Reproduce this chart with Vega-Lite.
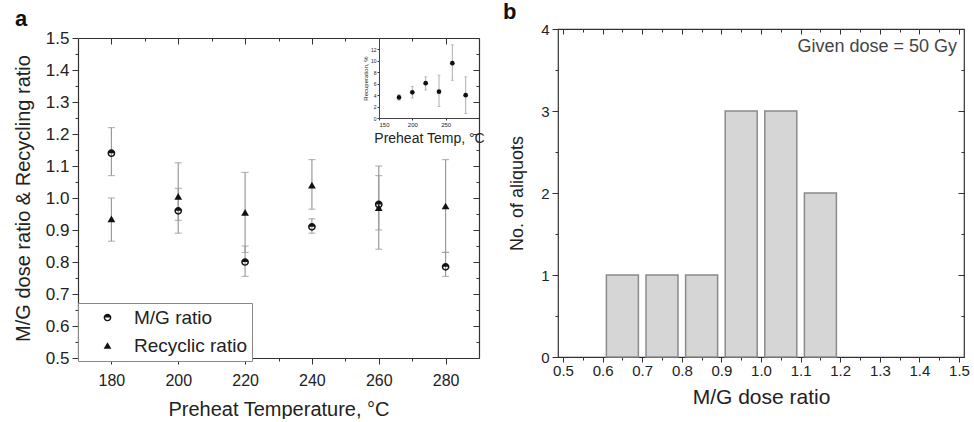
{
  "$schema": "https://vega.github.io/schema/vega-lite/v6.json",
  "background": "white",
  "padding": {"left": 13, "top": 0, "right": 5, "bottom": 0},
  "spacing": 17,
  "datasets": {
    "ratios": [
      {"temp": 180, "series": "M/G ratio", "value": 1.14, "lo": 1.07, "hi": 1.22},
      {"temp": 180, "series": "Recyclic ratio", "value": 0.935, "lo": 0.865, "hi": 1.0},
      {"temp": 200, "series": "M/G ratio", "value": 0.96, "lo": 0.89, "hi": 1.03},
      {"temp": 200, "series": "Recyclic ratio", "value": 1.005, "lo": 0.93, "hi": 1.11},
      {"temp": 220, "series": "M/G ratio", "value": 0.8, "lo": 0.755, "hi": 0.85},
      {"temp": 220, "series": "Recyclic ratio", "value": 0.955, "lo": 0.83, "hi": 1.08},
      {"temp": 240, "series": "M/G ratio", "value": 0.91, "lo": 0.89, "hi": 0.935},
      {"temp": 240, "series": "Recyclic ratio", "value": 1.04, "lo": 0.965, "hi": 1.12},
      {"temp": 260, "series": "M/G ratio", "value": 0.98, "lo": 0.84, "hi": 1.1},
      {"temp": 260, "series": "Recyclic ratio", "value": 0.97, "lo": 0.9, "hi": 1.07},
      {"temp": 280, "series": "M/G ratio", "value": 0.785, "lo": 0.755, "hi": 0.83},
      {"temp": 280, "series": "Recyclic ratio", "value": 0.975, "lo": 0.83, "hi": 1.12}
    ],
    "inset": [
      {"t": 180, "v": 3.6, "lo": 3.1, "hi": 4.1},
      {"t": 200, "v": 4.5, "lo": 3.5, "hi": 5.5},
      {"t": 220, "v": 6.1, "lo": 4.9, "hi": 7.2},
      {"t": 240, "v": 4.6, "lo": 2.0, "hi": 7.5},
      {"t": 260, "v": 9.6, "lo": 6.6, "hi": 12.8},
      {"t": 280, "v": 4.0, "lo": 0.8, "hi": 7.2}
    ],
    "hist": [
      {"center": 0.65, "count": 1},
      {"center": 0.75, "count": 1},
      {"center": 0.85, "count": 1},
      {"center": 0.95, "count": 3},
      {"center": 1.05, "count": 3},
      {"center": 1.15, "count": 2}
    ],
    "note": [
      {"label": "Given dose = 50 Gy"}
    ]
  },
  "hconcat": [
    {
      "width": 401,
      "height": 329,
      "view": {"stroke": null},
      "title": {"text": "a", "anchor": "start", "frame": "group", "dx": -63, "offset": -2, "fontSize": 22, "fontWeight": "bold", "color": "#111"},
      "layer": [
        {
          "data": {"name": "ratios"},
          "mark": {"type": "errorbar", "ticks": {"size": 7, "color": "#9a9a9a"}, "color": "#9a9a9a", "thickness": 1.2},
          "encoding": {
            "x": {"field": "temp", "type": "quantitative", "scale": {"domain": [170, 290], "nice": false, "zero": false},
              "axis": {"orient": "bottom", "domain": true, "domainColor": "#333", "domainWidth": 1.2, "values": [180, 200, 220, 240, 260, 280], "tickSize": 6, "labelFontSize": 16, "labelPadding": 8, "title": "Preheat Temperature, °C", "titleFontSize": 20, "titlePadding": 11}},
            "y": {"field": "lo", "type": "quantitative", "scale": {"domain": [0.5, 1.5], "range": [329, 9], "nice": false, "zero": false},
              "axis": {"orient": "left", "domain": true, "domainColor": "#333", "domainWidth": 1.2, "values": [0.5, 0.6, 0.7, 0.8, 0.9, 1.0, 1.1, 1.2, 1.3, 1.4, 1.5], "format": ".1f", "tickSize": 6, "labelFontSize": 17, "labelPadding": 3, "title": "M/G dose ratio & Recycling ratio", "titleFontSize": 20, "titlePadding": 12}},
            "y2": {"field": "hi"}
          }
        },
        {
          "data": {"name": "ratios"},
          "mark": {"type": "point", "filled": true, "color": "#111", "size": 60, "strokeWidth": 0, "opacity": 1},
          "encoding": {
            "x": {"field": "temp", "type": "quantitative", "scale": {"domain": [170, 290], "nice": false, "zero": false}, "axis": {"orient": "top", "offset": -9, "domain": true, "domainColor": "#333", "domainWidth": 1.2, "values": [180, 200, 220, 240, 260, 280], "tickSize": -6, "labels": false, "title": null}},
            "y": {"field": "value", "type": "quantitative", "scale": {"domain": [0.5, 1.5], "range": [329, 9], "nice": false, "zero": false}, "axis": {"orient": "right", "domain": true, "domainColor": "#333", "domainWidth": 1.2, "values": [0.5, 0.6, 0.7, 0.8, 0.9, 1.0, 1.1, 1.2, 1.3, 1.4, 1.5], "tickSize": -6, "labels": false, "title": null}},
            "shape": {"field": "series", "type": "nominal",
              "scale": {"domain": ["M/G ratio", "Recyclic ratio"], "range": ["M-1,0A1,1,0,0,1,1,0A1,1,0,0,1,-1,0ZM-0.62,0A0.62,0.62,0,0,0,0.62,0Z", "triangle-up"]},
              "legend": {"orient": "none", "legendX": 0, "legendY": 274, "title": null, "labelFontSize": 19, "labelColor": "#222", "symbolSize": 60, "symbolOffset": 15, "labelOffset": 17, "rowPadding": 8, "padding": 5, "strokeColor": "#888", "fillColor": "white", "symbolFillColor": "#111", "symbolStrokeWidth": 0}}
          }
        },
        {
          "data": {"name": "ratios"},
          "mark": {"type": "point", "opacity": 0},
          "encoding": {
            "x": {"field": "temp", "type": "quantitative", "scale": {"domain": [170, 290], "nice": false, "zero": false}, "axis": {"orient": "bottom", "values": [190, 210, 230, 250, 270], "tickSize": 3, "labels": false, "title": null}},
            "y": {"field": "value", "type": "quantitative", "scale": {"domain": [0.5, 1.5], "range": [329, 9], "nice": false, "zero": false}, "axis": {"orient": "left", "values": [0.55, 0.65, 0.75, 0.85, 0.95, 1.05, 1.15, 1.25, 1.35, 1.45], "tickSize": 3, "labels": false, "title": null}}
          }
        },
        {
          "data": {"name": "ratios"},
          "mark": {"type": "point", "opacity": 0},
          "encoding": {
            "x": {"field": "temp", "type": "quantitative", "scale": {"domain": [170, 290], "nice": false, "zero": false}, "axis": {"orient": "top", "offset": -9, "values": [190, 210, 230, 250, 270], "tickSize": -3, "labels": false, "title": null}},
            "y": {"field": "value", "type": "quantitative", "scale": {"domain": [0.5, 1.5], "range": [329, 9], "nice": false, "zero": false}, "axis": {"orient": "right", "values": [0.55, 0.65, 0.75, 0.85, 0.95, 1.05, 1.15, 1.25, 1.35, 1.45], "tickSize": -3, "labels": false, "title": null}}
          }
        },
        {
          "data": {"name": "inset"},
          "mark": {"type": "errorbar", "ticks": {"size": 3, "color": "#999"}, "color": "#999", "thickness": 0.8},
          "encoding": {
            "x": {"field": "t", "type": "quantitative", "scale": {"domain": [150, 300], "range": [301, 401], "nice": false, "zero": false},
              "axis": {"orient": "bottom", "offset": -240, "values": [150, 200, 250], "tickSize": 2, "labelFontSize": 6, "labelPadding": 1, "title": "Preheat Temp, °C", "titleFontSize": 14, "titlePadding": 4, "domain": true, "domainColor": "#444"}},
            "y": {"field": "lo", "type": "quantitative", "scale": {"domain": [0, 14], "range": [89, 9], "nice": false, "zero": false},
              "axis": {"orient": "left", "offset": -301, "values": [0, 2, 4, 6, 8, 10, 12], "tickSize": 2, "labelFontSize": 5, "labelPadding": 1, "title": "Recuperation, %", "titleFontSize": 6, "titlePadding": 2, "domain": true, "domainColor": "#444"}},
            "y2": {"field": "hi"}
          }
        },
        {
          "data": {"name": "inset"},
          "mark": {"type": "point", "filled": true, "color": "#111", "size": 22, "opacity": 1},
          "encoding": {
            "x": {"field": "t", "type": "quantitative", "scale": {"domain": [150, 300], "range": [301, 401], "nice": false, "zero": false}, "axis": null},
            "y": {"field": "v", "type": "quantitative", "scale": {"domain": [0, 14], "range": [89, 9], "nice": false, "zero": false}, "axis": null}
          }
        }
      ],
      "resolve": {"scale": {"x": "independent", "y": "independent"}, "axis": {"x": "independent", "y": "independent"}}
    },
    {
      "width": 406,
      "height": 328,
      "title": {"text": "b", "anchor": "start", "frame": "group", "dx": -55, "offset": -2, "fontSize": 22, "fontWeight": "bold", "color": "#111"},
      "layer": [
        {
          "data": {"name": "hist"},
          "mark": {"type": "bar", "orient": "vertical", "width": 32, "fill": "#d6d6d6", "stroke": "#8a8a8a", "strokeWidth": 1.5},
          "encoding": {
            "x": {"field": "center", "type": "quantitative", "scale": {"domain": [0.5, 1.5], "nice": false, "zero": false},
              "axis": {"orient": "bottom", "values": [0.5, 0.6, 0.7, 0.8, 0.9, 1.0, 1.1, 1.2, 1.3, 1.4, 1.5], "format": ".1f", "tickSize": 5, "labelFontSize": 15, "labelPadding": 1, "title": "M/G dose ratio", "titleFontSize": 21, "titlePadding": 8}},
            "y": {"field": "count", "type": "quantitative", "scale": {"domain": [0, 4], "nice": false},
              "axis": {"orient": "left", "values": [0, 1, 2, 3, 4], "format": "d", "tickSize": 6, "labelFontSize": 15, "labelPadding": 3, "title": "No. of aliquots", "titleFontSize": 18, "titlePadding": 14}}
          }
        },
        {
          "data": {"name": "note"},
          "mark": {"type": "text", "align": "right", "baseline": "middle", "fontSize": 18, "fontWeight": "normal", "color": "#444"},
          "encoding": {
            "x": {"datum": 1.495, "type": "quantitative", "axis": null},
            "y": {"datum": 3.78, "type": "quantitative", "axis": null},
            "text": {"field": "label"}
          }
        },
        {
          "data": {"name": "hist"},
          "mark": {"type": "point", "opacity": 0},
          "encoding": {
            "x": {"field": "center", "type": "quantitative", "axis": {"orient": "top", "values": [0.5, 0.6, 0.7, 0.8, 0.9, 1.0, 1.1, 1.2, 1.3, 1.4, 1.5], "tickSize": -5, "labels": false, "title": null}},
            "y": {"field": "count", "type": "quantitative", "axis": {"orient": "right", "values": [0, 1, 2, 3, 4], "tickSize": -6, "labels": false, "title": null}}
          }
        },
        {
          "data": {"name": "hist"},
          "mark": {"type": "point", "opacity": 0},
          "encoding": {
            "x": {"field": "center", "type": "quantitative", "axis": {"orient": "bottom", "values": [0.55, 0.65, 0.75, 0.85, 0.95, 1.05, 1.15, 1.25, 1.35, 1.45], "tickSize": 3, "labels": false, "title": null}},
            "y": {"field": "count", "type": "quantitative", "axis": {"orient": "left", "values": [0.5, 1.5, 2.5, 3.5], "tickSize": 3, "labels": false, "title": null}}
          }
        },
        {
          "data": {"name": "hist"},
          "mark": {"type": "point", "opacity": 0},
          "encoding": {
            "x": {"field": "center", "type": "quantitative", "axis": {"orient": "top", "values": [0.55, 0.65, 0.75, 0.85, 0.95, 1.05, 1.15, 1.25, 1.35, 1.45], "tickSize": -3, "labels": false, "title": null}},
            "y": {"field": "count", "type": "quantitative", "axis": {"orient": "right", "values": [0.5, 1.5, 2.5, 3.5], "tickSize": -3, "labels": false, "title": null}}
          }
        }
      ],
      "resolve": {"axis": {"x": "independent", "y": "independent"}}
    }
  ],
  "config": {
    "font": "Liberation Sans",
    "view": {"stroke": "#333", "strokeWidth": 1.2},
    "axis": {"grid": false, "domain": false, "tickColor": "#333", "labelColor": "#222", "titleColor": "#222", "titleFontWeight": "normal", "labelFont": "Liberation Sans", "titleFont": "Liberation Sans"},
    "legend": {"labelFont": "Liberation Sans"}
  }
}
